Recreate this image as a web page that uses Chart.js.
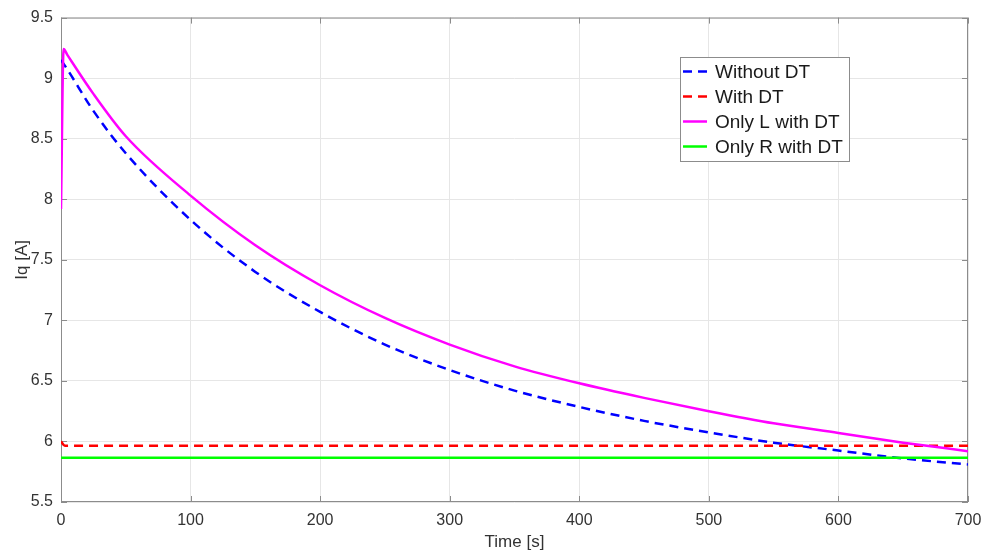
<!DOCTYPE html>
<html>
<head>
<meta charset="utf-8">
<script src="https://cdn.jsdelivr.net/npm/chart.js@4.4.1/dist/chart.umd.min.js"></script>
<style>
  body { margin: 0; background: #fff; }
  canvas { display: block; }
</style>
</head>
<body>
<canvas id="myChart" width="987" height="553"></canvas>
<script>
// time samples [s] and Iq [A] for each case
var timeWithout = [0, 5, 25, 50, 100, 150, 200, 250, 300, 350, 400, 450, 500, 550, 600, 650, 700];
var iqWithout   = [9.15, 9.07, 8.73, 8.38, 7.83, 7.40, 7.07, 6.80, 6.59, 6.42, 6.285, 6.17, 6.075, 5.99, 5.925, 5.86, 5.81];

var timeOnlyL = [0, 2, 5, 25, 50, 100, 150, 200, 250, 300, 350, 400, 450, 500, 550, 600, 650, 700];
var iqOnlyL   = [7.92, 9.24, 9.19, 8.87, 8.52, 8.03, 7.62, 7.29, 7.02, 6.80, 6.62, 6.48, 6.36, 6.25, 6.15, 6.07, 5.99, 5.92];

var timeFlat = [0, 3, 700];
var iqWithDT = [6.0, 5.965, 5.965];
var iqOnlyR  = [5.865, 5.865, 5.865];

var xTicks = [0, 100, 200, 300, 400, 500, 600, 700];
var yTicks = [5.5, 6, 6.5, 7, 7.5, 8, 8.5, 9, 9.5];

var seriesNames  = ["Without DT", "With DT", "Only L with DT", "Only R with DT"];
var seriesColors = ["#0000ff", "#ff0000", "#ff00ff", "#00ff00"];
var seriesDashes = [[9, 6], [9, 6], [], []];

function toPoints(xs, ys) {
  return xs.map(function (x, i) { return { x: x, y: ys[i] }; });
}

var textColor = "#333333";
var fontFamily = "'Liberation Sans', Arial, Helvetica, sans-serif";

// box around the axes with inward ticks on every side
var framePlugin = {
  id: "frame",
  beforeDatasetsDraw: function (chart) {
    var a = chart.chartArea, ctx = chart.ctx;
    var xs = chart.scales.x, ys = chart.scales.y;
    ctx.save();
    ctx.strokeStyle = "#8c8c8c";
    ctx.lineWidth = 1;
    ctx.strokeRect(a.left + 0.5, a.top + 0.5, a.right - a.left - 1, a.bottom - a.top - 1);
    ctx.beginPath();
    xTicks.forEach(function (t) {
      var px = Math.round(xs.getPixelForValue(t)) + 0.5;
      ctx.moveTo(px, a.bottom); ctx.lineTo(px, a.bottom - 6);
      ctx.moveTo(px, a.top); ctx.lineTo(px, a.top + 6);
    });
    yTicks.forEach(function (t) {
      var py = Math.round(ys.getPixelForValue(t)) + 0.5;
      ctx.moveTo(a.left, py); ctx.lineTo(a.left + 6, py);
      ctx.moveTo(a.right, py); ctx.lineTo(a.right - 6, py);
    });
    ctx.stroke();
    ctx.restore();
  }
};

// legend box in the upper right of the plot
var legendPlugin = {
  id: "boxLegend",
  afterDraw: function (chart) {
    var ctx = chart.ctx;
    var x0 = 680, y0 = 57, w = 169, h = 104, rowH = 25, firstRow = 71.5;
    ctx.save();
    ctx.fillStyle = "#ffffff";
    ctx.fillRect(x0, y0, w, h);
    ctx.strokeStyle = "#8c8c8c";
    ctx.lineWidth = 1;
    ctx.strokeRect(x0 + 0.5, y0 + 0.5, w, h);
    ctx.font = "19px " + fontFamily;
    ctx.textBaseline = "middle";
    for (var i = 0; i < seriesNames.length; i++) {
      var y = firstRow + i * rowH;
      ctx.beginPath();
      ctx.strokeStyle = seriesColors[i];
      ctx.lineWidth = 2.5;
      ctx.setLineDash(seriesDashes[i]);
      ctx.moveTo(683, y);
      ctx.lineTo(707, y);
      ctx.stroke();
      ctx.setLineDash([]);
      ctx.fillStyle = "#1a1a1a";
      ctx.fillText(seriesNames[i], 715, y + 1);
    }
    ctx.restore();
  }
};

var seriesData = [
  toPoints(timeWithout, iqWithout),
  toPoints(timeFlat, iqWithDT),
  toPoints(timeOnlyL, iqOnlyL),
  toPoints(timeFlat, iqOnlyR)
];

var datasets = seriesData.map(function (pts, i) {
  return {
    label: seriesNames[i],
    data: pts,
    borderColor: seriesColors[i],
    borderWidth: 2.5,
    borderDash: seriesDashes[i],
    pointRadius: 0,
    fill: false,
    cubicInterpolationMode: "monotone",
    order: seriesNames.length - i
  };
});

new Chart("myChart", {
  type: "line",
  data: { datasets: datasets },
  plugins: [framePlugin, legendPlugin],
  options: {
    responsive: false,
    animation: false,
    layout: { padding: { top: 17, right: 19, left: 0, bottom: 0 } },
    plugins: {
      legend: { display: false },
      tooltip: { enabled: false }
    },
    scales: {
      x: {
        type: "linear",
        min: 0,
        max: 700,
        afterBuildTicks: function (scale) {
          scale.ticks = xTicks.map(function (v) { return { value: v }; });
        },
        afterFit: function (scale) {
          scale.height = 51;
          // keep the end labels from pulling the plot edges inwards
          scale.paddingLeft = 0;
          scale.paddingRight = 0;
        },
        grid: { color: "#e6e6e6", drawTicks: false },
        border: { display: false },
        ticks: {
          padding: 9,
          color: textColor,
          font: { family: fontFamily, size: 16 },
          callback: function (v) { return String(v); }
        },
        title: {
          display: true,
          text: "Time [s]",
          color: textColor,
          font: { family: fontFamily, size: 17 },
          padding: { top: 0, bottom: 0 }
        }
      },
      y: {
        type: "linear",
        min: 5.5,
        max: 9.5,
        afterBuildTicks: function (scale) {
          scale.ticks = yTicks.map(function (v) { return { value: v }; });
        },
        afterFit: function (scale) { scale.width = 61; },
        grid: { color: "#e6e6e6", drawTicks: false },
        border: { display: false },
        ticks: {
          padding: 8,
          color: textColor,
          font: { family: fontFamily, size: 16 },
          callback: function (v) { return String(v); }
        },
        title: {
          display: true,
          text: "Iq [A]",
          color: textColor,
          font: { family: fontFamily, size: 17 },
          padding: { top: 12, bottom: 0 }
        }
      }
    }
  }
});
</script>
</body>
</html>
